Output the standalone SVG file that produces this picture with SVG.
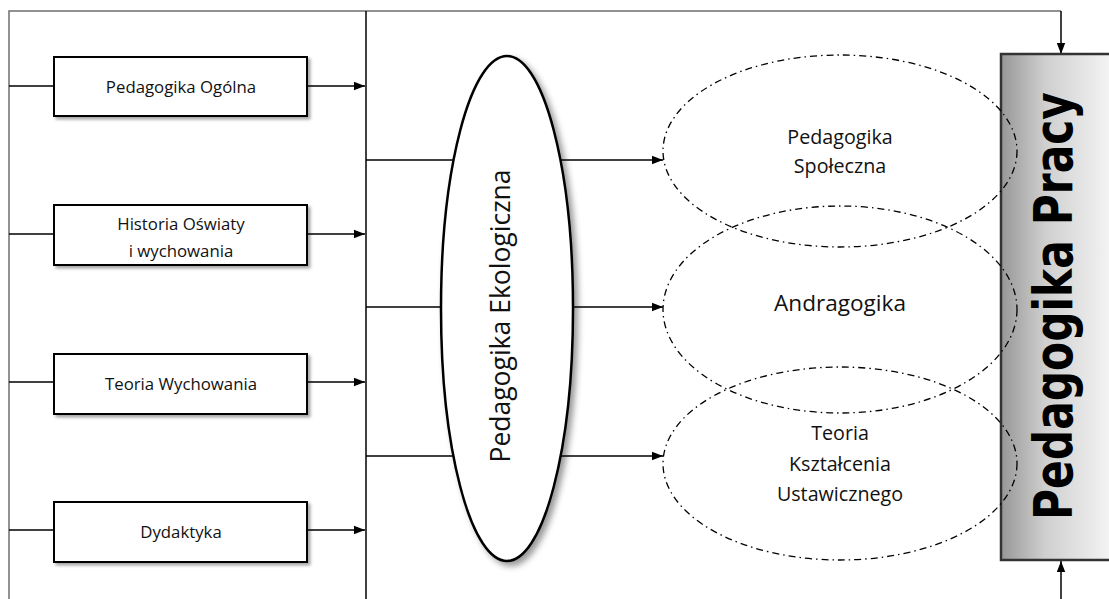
<svg xmlns="http://www.w3.org/2000/svg" width="1109" height="599" viewBox="0 0 1109 599">
<defs>
  <style>
    .frame{fill:none;stroke:#6e6e6e;stroke-width:1.5}
    .ln{fill:none;stroke:#000;stroke-width:1.5}
    .box{fill:#fff;stroke:#000;stroke-width:2}
    .dash{fill:none;stroke:#000;stroke-width:1.3;stroke-dasharray:7 4 1.5 4}
    .t{font-family:"Open Sans","Noto Sans",sans-serif;fill:#111;text-anchor:middle}
    .bt{font-size:16.8px}
    .et{font-size:19.7px}
  </style>
  <marker id="ah" viewBox="0 0 11 10" refX="11" refY="5" markerWidth="11" markerHeight="10" markerUnits="userSpaceOnUse" orient="auto">
    <path d="M0,0.8 L11,5 L0,9.2 Z" fill="#000"/>
  </marker>
  <filter id="sh" x="-20%" y="-20%" width="140%" height="140%">
    <feDropShadow dx="2.5" dy="2.5" stdDeviation="1.5" flood-color="#000" flood-opacity="0.35"/>
  </filter>
  <filter id="sh2" x="-30%" y="-10%" width="160%" height="120%">
    <feDropShadow dx="4" dy="4" stdDeviation="3" flood-color="#000" flood-opacity="0.4"/>
  </filter>
  <linearGradient id="gr" x1="0" y1="0" x2="1" y2="0">
    <stop offset="0" stop-color="#979797"/>
    <stop offset="0.4" stop-color="#cfcfcf"/>
    <stop offset="1" stop-color="#f4f4f4"/>
  </linearGradient>
</defs>

<g id="connectors">
  <path class="frame" d="M9,599 V11 H1061"/>
  <path class="ln" d="M1061,11 V54" marker-end="url(#ah)"/>
  <path class="ln" d="M1061,599 V561" marker-end="url(#ah)"/>
  <path class="ln" d="M366,11 V599"/>
  <path class="ln" d="M9,86 H54"/>
  <path class="ln" d="M9,234 H54"/>
  <path class="ln" d="M9,382 H54"/>
  <path class="ln" d="M9,530 H54"/>
  <path class="ln" d="M307,86 H365" marker-end="url(#ah)"/>
  <path class="ln" d="M307,234 H365" marker-end="url(#ah)"/>
  <path class="ln" d="M307,382 H365" marker-end="url(#ah)"/>
  <path class="ln" d="M307,530 H365" marker-end="url(#ah)"/>
  <path class="ln" d="M366,160 H663" marker-end="url(#ah)"/>
  <path class="ln" d="M366,307 H663" marker-end="url(#ah)"/>
  <path class="ln" d="M366,456 H663" marker-end="url(#ah)"/>
</g>

<g id="n-ogolna">
  <rect class="box" x="54" y="57" width="253" height="59" filter="url(#sh)"/>
  <text class="t bt" x="181" y="93">Pedagogika Ogólna</text>
</g>
<g id="n-historia">
  <rect class="box" x="54" y="205" width="253" height="60" filter="url(#sh)"/>
  <text class="t bt" x="181" y="230">Historia Oświaty</text>
  <text class="t bt" x="181" y="257">i wychowania</text>
</g>
<g id="n-teoria-wych">
  <rect class="box" x="54" y="354" width="253" height="60" filter="url(#sh)"/>
  <text class="t bt" x="181" y="390">Teoria Wychowania</text>
</g>
<g id="n-dydaktyka">
  <rect class="box" x="54" y="502" width="253" height="60" filter="url(#sh)"/>
  <text class="t bt" x="181" y="538">Dydaktyka</text>
</g>

<g id="n-ekologiczna">
  <ellipse cx="507" cy="308.5" rx="66" ry="252.5" fill="#fff" stroke="#000" stroke-width="2.5" filter="url(#sh2)"/>
  <text class="t" font-size="26.5px" transform="translate(510,316) rotate(-90)">Pedagogika Ekologiczna</text>
</g>

<g id="n-pracy">
  <rect x="1001" y="54" width="110" height="506" fill="url(#gr)" stroke="#333" stroke-width="2.5"/>
  <text font-family="'DejaVu Sans',Verdana,sans-serif" font-weight="bold" font-size="53px" fill="#000" text-anchor="middle" textLength="428" lengthAdjust="spacingAndGlyphs" transform="translate(1072,306) rotate(-90)">Pedagogika Pracy</text>
</g>

<g id="n-spoleczna">
  <ellipse class="dash" cx="840" cy="151" rx="177" ry="96"/>
  <text class="t et" x="840" y="144">Pedagogika</text>
  <text class="t et" x="840" y="173">Społeczna</text>
</g>
<g id="n-andragogika">
  <ellipse class="dash" cx="840" cy="309.5" rx="177" ry="103.5"/>
  <text class="t" font-size="22.6px" x="840" y="311">Andragogika</text>
</g>
<g id="n-ksztalcenie">
  <ellipse class="dash" cx="840" cy="463.5" rx="177" ry="96.5"/>
  <text class="t et" x="840" y="440">Teoria</text>
  <text class="t et" x="840" y="471">Kształcenia</text>
  <text class="t et" x="840" y="501">Ustawicznego</text>
</g>
</svg>
